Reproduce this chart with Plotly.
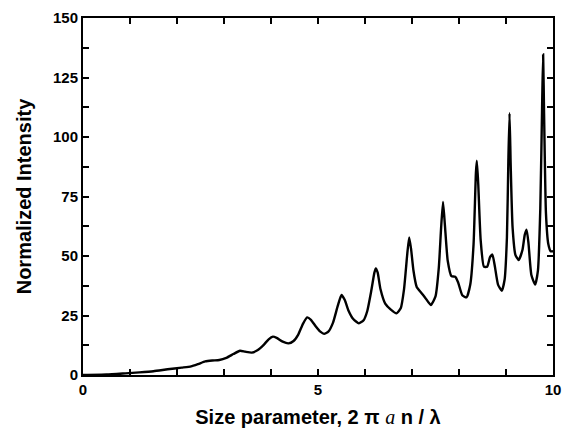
import plotly.graph_objects as go

# Size parameter (x) and normalized intensity (y)
size_param = [
    0.0, 0.5, 0.9, 1.2, 1.5, 1.8, 2.1, 2.3, 2.45, 2.6, 2.75, 2.9, 3.05, 3.2, 3.34,
    3.45, 3.59, 3.72, 3.85, 3.95, 4.04, 4.12, 4.25, 4.37, 4.48, 4.58, 4.68, 4.77,
    4.85, 4.95, 5.05, 5.13, 5.22, 5.32, 5.42, 5.5, 5.57, 5.65, 5.75, 5.87, 5.97,
    6.05, 6.13, 6.2, 6.23, 6.27, 6.33, 6.43, 6.55, 6.67, 6.76, 6.83, 6.9, 6.94,
    6.98, 7.03, 7.1, 7.2, 7.28, 7.4, 7.5, 7.57, 7.62, 7.66, 7.7, 7.76, 7.84, 7.92,
    7.98, 8.07, 8.16, 8.24, 8.31, 8.36, 8.38, 8.41, 8.46, 8.53, 8.6, 8.66, 8.71,
    8.76, 8.83, 8.91, 8.97, 9.02, 9.05, 9.075, 9.1, 9.14, 9.2, 9.27, 9.35, 9.4,
    9.44, 9.48, 9.54, 9.62, 9.68, 9.73, 9.77, 9.79, 9.81, 9.85, 9.9, 9.95, 10.0,
]
intensity = [
    0.0, 0.2, 0.7, 1.1, 1.6, 2.4, 3.1, 3.6, 4.6, 5.7, 6.1, 6.3, 7.2, 8.8, 10.2,
    9.8, 9.4, 10.5, 12.8, 15.0, 16.1, 15.6, 14.0, 13.3, 14.3, 17.0, 21.5, 24.2,
    23.2, 20.5, 18.2, 17.3, 18.2, 22.0, 29.0, 33.6, 31.5, 27.0, 23.5, 21.7, 23.0,
    27.0, 35.0, 43.0, 44.8, 43.0, 36.0, 30.0, 27.5, 25.9, 28.0, 36.0, 51.0, 57.8,
    53.0, 44.0, 37.0, 34.5, 32.5, 29.4, 33.0, 45.0, 62.0, 72.7, 63.0, 48.0, 41.5, 41.3,
    39.0, 33.5, 32.6, 38.0, 55.0, 85.0, 90.0, 80.0, 57.0, 45.5, 45.5, 49.5, 50.6,
    46.0, 38.0, 35.4, 40.0, 58.0, 90.0, 110.0, 88.0, 62.0, 50.5, 48.3, 52.5, 59.0,
    61.0, 55.0, 42.0, 38.0, 44.0, 70.0, 115.0, 134.7, 110.0, 68.0, 55.0, 52.0, 52.0,
]

x_tickvals = list(range(0, 11))
x_ticktext = ["0", "", "", "", "", "5", "", "", "", "", "10"]
y_tickvals = [0, 12.5, 25, 37.5, 50, 62.5, 75, 87.5, 100, 112.5, 125, 137.5, 150]
y_ticktext = ["0", "", "25", "", "50", "", "75", "", "100", "", "125", "", "150"]

fig = go.Figure()
fig.add_trace(go.Scatter(
    x=size_param, y=intensity, mode="lines",
    line=dict(color="black", width=2.4, shape="spline", smoothing=0.5),
    showlegend=False, hoverinfo="skip",
))

axis_font = dict(family="Liberation Sans, Arial, sans-serif", size=15, color="black", weight="bold")
title_font = dict(family="Liberation Sans, Arial, sans-serif", size=20, color="black", weight="bold")

fig.update_layout(
    width=564, height=432,
    margin=dict(l=83, r=11, t=18, b=57),
    paper_bgcolor="white", plot_bgcolor="white",
    xaxis=dict(
        range=[0, 10], tickvals=x_tickvals, ticktext=x_ticktext,
        ticks="inside", ticklen=6, tickwidth=1.5, tickcolor="black",
        showline=True, linecolor="black", linewidth=2, mirror="ticks",
        showgrid=False, zeroline=False, tickfont=axis_font, automargin=False,
        title=dict(text='Size parameter, 2 π <span style="font-family:Liberation Serif;font-style:italic;font-weight:normal">a</span> n / λ',
                   font=title_font, standoff=13),
    ),
    yaxis=dict(
        range=[0, 150], tickvals=y_tickvals, ticktext=y_ticktext,
        ticks="inside", ticklen=6, tickwidth=1.5, tickcolor="black",
        showline=True, linecolor="black", linewidth=2, mirror="ticks",
        showgrid=False, zeroline=False, tickfont=axis_font, automargin=False,
        title=dict(text="Normalized Intensity", font=title_font, standoff=16),
    ),
)

fig.write_html(
    "out.html",
    config={"displayModeBar": False},
    post_script="document.body.style.margin='0px';document.body.style.overflow='hidden';",
)
